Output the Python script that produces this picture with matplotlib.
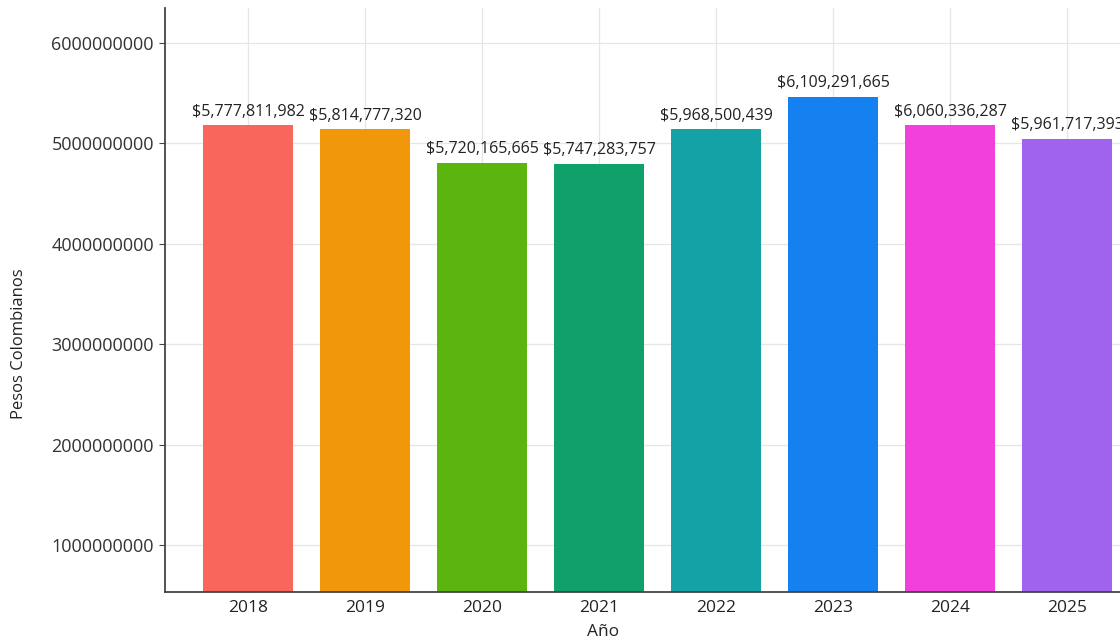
import matplotlib
matplotlib.use("Agg")
import matplotlib.pyplot as plt
from matplotlib.ticker import FormatStrFormatter

plt.rcParams['font.family'] = ['Open Sans', 'DejaVu Sans']

# years on the x axis
years = ['2018', '2019', '2020', '2021', '2022', '2023', '2024', '2025']
# bar heights as drawn in the picture (they don't match the printed labels)
bar_heights = [5.183e9, 5.143e9, 4.805e9, 4.795e9, 5.143e9, 5.462e9, 5.183e9, 5.044e9]
# value labels printed above each bar
value_labels = ['$5,777,811,982', '$5,814,777,320', '$5,720,165,665', '$5,747,283,757',
                '$5,968,500,439', '$6,109,291,665', '$6,060,336,287', '$5,961,717,393']
bar_colors = ['#F8665C', '#F0970C', '#5CB50E', '#10A06A', '#15A2A6', '#1581F0', '#F241DA', '#A063EE']
y_ticks = [1000000000, 2000000000, 3000000000, 4000000000, 5000000000, 6000000000]

fig = plt.figure(figsize=(11.2, 6.41), dpi=100)
ax = fig.add_axes([165 / 1120, 49 / 641, 955 / 1120, 584 / 641])

x = list(range(len(years)))
ax.bar(x, bar_heights, width=0.77, color=bar_colors, zorder=2)

for xi, h, lab in zip(x, bar_heights, value_labels):
    ax.annotate(lab, (xi, h), xytext=(0, 4), textcoords='offset points',
                ha='center', va='bottom', fontsize=11.5, color='#222222')

ax.set_xlim(-0.71, 7.45)
ax.set_ylim(0.532e9, 6.349e9)
ax.set_xticks(x)
ax.set_xticklabels(years)
ax.set_yticks(y_ticks)
ax.yaxis.set_major_formatter(FormatStrFormatter('%d'))

ax.tick_params(axis='x', direction='in', length=5, labelsize=12.5, colors='#444444',
               labelcolor='#222222', pad=6)
ax.tick_params(axis='y', direction='out', length=4, labelsize=13, colors='#444444',
               labelcolor='#333333', pad=4)

ax.grid(True, color='#e6e6e6', linewidth=0.9, zorder=0)
ax.set_axisbelow(True)

for side in ['top', 'right']:
    ax.spines[side].set_visible(False)
for side in ['left', 'bottom']:
    ax.spines[side].set_color('#444444')
    ax.spines[side].set_linewidth(1.3)

ax.set_xlabel('Año', fontsize=12.5, color='#222222')
ax.set_ylabel('Pesos Colombianos', fontsize=12, color='#222222')
ax.xaxis.set_label_coords(0.459, -0.055)
ax.yaxis.set_label_coords(-0.145, 0.425)

fig.savefig('out.png', dpi=100)
